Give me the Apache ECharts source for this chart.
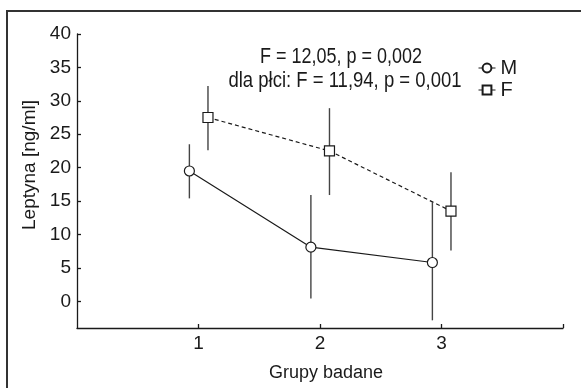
<!DOCTYPE html>
<html>
<head>
<meta charset="utf-8">
<script src="https://cdn.jsdelivr.net/npm/echarts@6/dist/echarts.min.js"></script>
<style>
html,body{margin:0;padding:0;background:#fff;}
#chart{width:581px;height:388px;}
</style>
</head>
<body>
<div id="chart"></div>
<script>
// ---- data ----
var groups = [1, 2, 3];
var groupLabels = ['1', '2', '3'];
var mMean = [19.5, 8.1, 5.8];
var mLow  = [15.4, 0.4, -2.85];
var mHigh = [23.5, 15.9, 14.8];
var fMean = [27.5, 22.5, 13.5];
var fLow  = [22.6, 15.9, 7.6];
var fHigh = [32.2, 28.9, 19.3];
var yTickValues = [0, 5, 10, 15, 20, 25, 30, 35, 40];
var seriesNames = ['M', 'F'];
var statLines = ['F = 12,05, p = 0,002', 'dla płci: F = 11,94, p = 0,001'];
var xName = 'Grupy badane';
var yName = 'Leptyna [ng/ml]';

var dodgeM = -0.075, dodgeF = 0.078;
var FONT = '"Liberation Sans", Arial, sans-serif';
var INK = '#1a1a1a';

function pts(mean, dodge) {
  return groups.map(function (g, i) { return [g + dodge, mean[i]]; });
}
function bars(low, high, dodge) {
  return groups.map(function (g, i) { return [g + dodge, low[i], high[i]]; });
}
function errRender(params, api) {
  var x = api.value(0);
  var p1 = api.coord([x, api.value(1)]);
  var p2 = api.coord([x, api.value(2)]);
  return {
    type: 'line',
    shape: { x1: p1[0], y1: p1[1], x2: p2[0], y2: p2[1] },
    style: { stroke: '#444', lineWidth: 1.4 }
  };
}

var chart = echarts.init(document.getElementById('chart'), null, { renderer: 'canvas' });
chart.setOption({
  animation: false,
  backgroundColor: '#fff',
  textStyle: { fontFamily: FONT, color: INK },
  grid: { left: 77, right: 18, top: 34, bottom: 60, containLabel: false },
  legend: {
    orient: 'vertical',
    left: 473,
    top: 52,
    itemWidth: 17,
    itemHeight: 11,
    itemGap: 0,
    data: seriesNames,
    lineStyle: { type: 'solid', width: 1, color: INK },
    textStyle: { fontFamily: FONT, fontSize: 20, lineHeight: 22, color: INK }
  },
  xAxis: {
    type: 'value',
    min: 0, max: 4, interval: 1,
    name: xName,
    nameLocation: 'middle',
    nameGap: 36,
    nameTextStyle: { fontFamily: FONT, fontSize: 18, color: INK, padding: [0, 0, 0, 12] },
    axisLine: { show: true, onZero: false, lineStyle: { color: INK, width: 1.3 } },
    axisTick: { show: true, inside: true, length: 4, customValues: [1, 2, 3, 4], lineStyle: { color: INK, width: 1.3 } },
    axisLabel: {
      fontFamily: FONT, fontSize: 19, color: INK, margin: 6,
      customValues: groups,
      formatter: function (v) { return groupLabels[groups.indexOf(v)]; }
    },
    splitLine: { show: false }
  },
  yAxis: {
    type: 'value',
    min: -4, max: 40,
    name: yName,
    nameLocation: 'middle',
    nameGap: 37,
    nameRotate: 90,
    nameTextStyle: { fontFamily: FONT, fontSize: 19, color: INK, padding: [0, 0, 0, 32] },
    axisLine: { show: true, onZero: false, lineStyle: { color: INK, width: 1.3 } },
    axisTick: { show: true, inside: true, length: 4, customValues: yTickValues, lineStyle: { color: INK, width: 1.3 } },
    axisLabel: { fontFamily: FONT, fontSize: 19, color: INK, margin: 6, customValues: yTickValues },
    splitLine: { show: false }
  },
  graphic: [
    {
      type: 'rect', silent: true, z: 100,
      shape: { x: 7, y: 11, width: 600, height: 420 },
      style: { fill: 'none', stroke: '#333', lineWidth: 2 }
    },
    {
      type: 'text', x: 341, y: 57, z: 100, scaleY: 1.2,
      style: { text: statLines[0], font: '18px ' + FONT, fill: INK, textAlign: 'center', textVerticalAlign: 'middle' }
    },
    {
      type: 'text', x: 345, y: 81, z: 100, scaleY: 1.2,
      style: { text: statLines[1], font: '18.5px ' + FONT, fill: INK, textAlign: 'center', textVerticalAlign: 'middle' }
    }
  ],
  series: [
    {
      type: 'custom', name: 'errM', renderItem: errRender,
      data: bars(mLow, mHigh, dodgeM), z: 1, silent: true,
      encode: { x: 0, y: [1, 2] }
    },
    {
      type: 'custom', name: 'errF', renderItem: errRender,
      data: bars(fLow, fHigh, dodgeF), z: 1, silent: true,
      encode: { x: 0, y: [1, 2] }
    },
    {
      type: 'line', name: seriesNames[0],
      data: pts(mMean, dodgeM), z: 3,
      symbol: 'circle', symbolSize: 10,
      lineStyle: { color: INK, width: 1.2, type: 'solid' },
      itemStyle: { color: '#fff', borderColor: INK, borderWidth: 1.2 }
    },
    {
      type: 'line', name: seriesNames[1],
      data: pts(fMean, dodgeF), z: 3,
      symbol: 'rect', symbolSize: 10,
      lineStyle: { color: INK, width: 1.2, type: [4, 3] },
      itemStyle: { color: '#fff', borderColor: INK, borderWidth: 1.2 }
    }
  ]
});
</script>
</body>
</html>
